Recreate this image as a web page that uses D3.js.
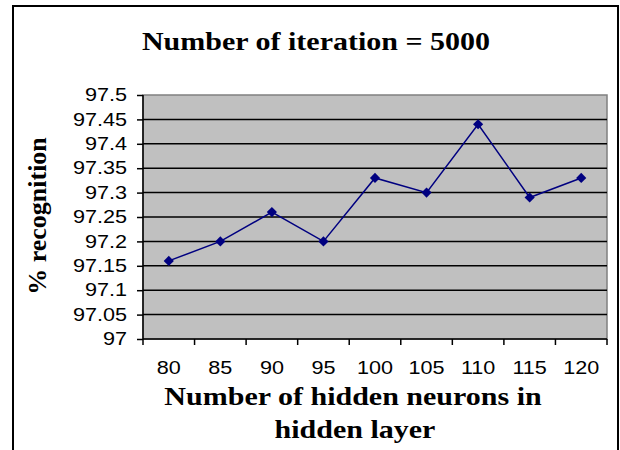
<!DOCTYPE html>
<meta charset="utf-8">
<style>
body { margin: 0; background: #fff; }
.tick text { font-family: "Liberation Sans", Arial, sans-serif; font-size: 18px; fill: #000; }
.title { font-family: "Liberation Serif", "Times New Roman", serif; font-weight: bold; fill: #000; }
</style>
<svg class="chart"></svg>
<script src="https://d3js.org/d3.v7.min.js"></script>
<script>

var neurons = [80, 85, 90, 95, 100, 105, 110, 115, 120];
var recognition = [97.16, 97.20, 97.26, 97.20, 97.33, 97.30, 97.44, 97.29, 97.33];
var yTicks = [97, 97.05, 97.1, 97.15, 97.2, 97.25, 97.3, 97.35, 97.4, 97.45, 97.5];
var yTickLabels = ["97", "97.05", "97.1", "97.15", "97.2", "97.25", "97.3", "97.35", "97.4", "97.45", "97.5"];

var width = 620,
    height = 450,
    stretch = 1.2;   // the text in the picture is a little wide

var margin = {top: 95, right: 13, bottom: 111, left: 143};
var w = width - margin.left - margin.right,
    h = height - margin.top - margin.bottom;

var svg = d3.select(".chart")
    .attr("width", width)
    .attr("height", height);

// outer frame
svg.append("rect")
    .attr("x", 13).attr("y", 6)
    .attr("width", 605).attr("height", 470)
    .attr("fill", "none")
    .attr("stroke", "#000")
    .attr("stroke-width", 2);

var x = d3.scaleBand()
    .domain(neurons)
    .range([0, w]);

var y = d3.scaleLinear()
    .domain([97, 97.5])
    .range([h, 0]);

var g = svg.append("g")
    .attr("transform", "translate(" + margin.left + "," + margin.top + ")");

// plot area
g.append("rect")
    .attr("width", w)
    .attr("height", h)
    .attr("fill", "#c0c0c0")
    .attr("stroke", "#808080")
    .attr("stroke-width", 1.5);

// gridlines
g.selectAll(".grid")
    .data(yTicks.slice(1, -1))
    .enter().append("line")
    .attr("x1", 0).attr("x2", w)
    .attr("y1", function(d) { return y(d); })
    .attr("y2", function(d) { return y(d); })
    .attr("stroke", "#000")
    .attr("stroke-width", 1.5);

// y axis
var yAxis = g.append("g")
    .call(d3.axisLeft(y)
        .tickValues(yTicks)
        .tickFormat(function(d, i) { return yTickLabels[i]; })
        .tickSize(6)
        .tickPadding(10));
yAxis.selectAll("line, path").attr("stroke", "#000").attr("stroke-width", 1.5);
yAxis.select(".domain").attr("d", "M0," + h + "V0");
yAxis.selectAll(".tick text")
    .attr("x", -16 / stretch)
    .attr("transform", "scale(" + stretch + ",1)");

// x axis, ticks between categories
var xAxis = g.append("g")
    .attr("transform", "translate(0," + h + ")")
    .call(d3.axisBottom(x).tickSize(0).tickPadding(22));
xAxis.select(".domain").attr("stroke", "#000").attr("stroke-width", 1.5).attr("d", "M0,0H" + w);
xAxis.selectAll(".tick text").attr("transform", "scale(" + stretch + ",1)");

xAxis.selectAll(".sep")
    .data(neurons.concat([null]))
    .enter().append("line")
    .attr("x1", function(d, i) { return i * x.step(); })
    .attr("x2", function(d, i) { return i * x.step(); })
    .attr("y1", 0).attr("y2", 6)
    .attr("stroke", "#000")
    .attr("stroke-width", 1.5);

// series
var line = d3.line()
    .x(function(d, i) { return x(neurons[i]) + x.bandwidth() / 2; })
    .y(function(d) { return y(d); });

g.append("path")
    .datum(recognition)
    .attr("d", line)
    .attr("fill", "none")
    .attr("stroke", "#000080")
    .attr("stroke-width", 1.5);

var diamond = d3.symbol().type(d3.symbolDiamond2).size(66);
g.selectAll(".pt")
    .data(recognition)
    .enter().append("path")
    .attr("d", diamond)
    .attr("transform", function(d, i) {
        return "translate(" + (x(neurons[i]) + x.bandwidth() / 2) + "," + y(d) + ")";
    })
    .attr("fill", "#000080");

// titles
svg.append("text")
    .attr("class", "title")
    .attr("transform", "translate(316,50) scale(" + stretch + ",1)")
    .attr("text-anchor", "middle")
    .style("font-size", "25px")
    .text("Number of iteration = 5000");

svg.append("text")
    .attr("class", "title")
    .attr("transform", "translate(46,216) rotate(-90)")
    .attr("text-anchor", "middle")
    .style("font-size", "26px")
    .text("% recognition");

svg.append("text")
    .attr("class", "title")
    .attr("transform", "translate(353,405) scale(" + stretch + ",1)")
    .attr("text-anchor", "middle")
    .style("font-size", "25px")
    .text("Number of hidden neurons in");

svg.append("text")
    .attr("class", "title")
    .attr("transform", "translate(355,438) scale(" + stretch + ",1)")
    .attr("text-anchor", "middle")
    .style("font-size", "25px")
    .text("hidden layer");

</script>
